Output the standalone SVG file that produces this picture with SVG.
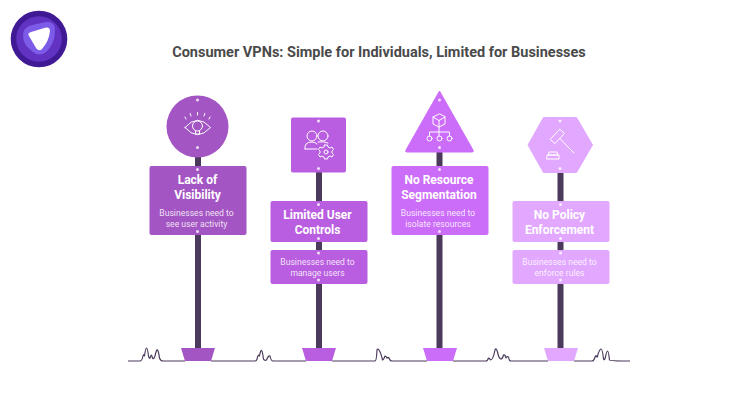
<svg xmlns="http://www.w3.org/2000/svg" width="740" height="420" viewBox="0 0 740 420">
<style>
.t{font-family:Roboto,"Liberation Sans",sans-serif;text-anchor:middle}
.h{font-size:12px;font-weight:700;fill:#fff}
.s{font-size:8.6px;font-weight:400;fill:#fff;fill-opacity:.85}
.i{fill:none;stroke:#fff;stroke-width:1;stroke-linecap:round;stroke-linejoin:round}
.d{fill:#fff;fill-opacity:.8}
.post{fill:#4b3a5c}
.g{fill:none;stroke:#4b3a5c;stroke-width:1.2;stroke-linejoin:round}
</style>
<rect width="740" height="420" fill="#fff"/>
<g id="logo">
<circle cx="39" cy="39" r="28.3" fill="#3f1a94"/>
<circle cx="39" cy="39" r="22.8" fill="#6233c2"/>
<path d="M23 36Q23 27 32 25L46 22Q55 21 55 30Q55 44 46 52Q39 57 33 52Q23 45 23 36Z" fill="#7b5be8"/>
<path d="M29 36Q27 33 31 32L46 27.500Q50 27 50 31Q49 41 42 49Q39 52 36 48Z" fill="#fff"/>
</g>
<text id="title" class="t" x="379" y="57" font-size="14.500" font-weight="700" fill="#4a4a4a">Consumer VPNs: Simple for Individuals, Limited for Businesses</text>
<g id="connectors">
<rect class="post" x="195" y="150" width="6" height="199"/>
<rect class="post" x="316" y="165" width="6" height="184"/>
<rect class="post" x="436.500" y="145" width="6" height="204"/>
<rect class="post" x="557.500" y="165" width="6" height="184"/>
<path class="g" d="M128 361H140Q142 361 143 356Q144 353 144.500 356Q145.500 348 146.500 348Q147.500 348 148.500 356Q149.500 360 150.500 357Q151.500 353 152.500 358Q153.500 360 155 356Q156.500 349 157.500 350Q158.500 351 159.500 358Q160.500 361 163 361H185"/>
<path class="g" d="M211 361H255Q257 361 257.500 357Q258.500 354 259.500 356Q260.500 350 261.500 350.500Q262.500 351 263.500 359Q264.500 361 266.500 360Q268.500 355 270 356Q271 361 273 361H306"/>
<path class="g" d="M332 361H375Q376.500 361 377 350Q377.500 348 379 350Q381 353 382.500 360Q383.500 360 385 356Q386 356 387 358Q388 357 389 358Q390 361 392 361H427"/>
<path class="g" d="M453 361H486Q487.500 361 488.500 358Q489.500 358 490.500 360Q493 360 495 350Q496 347 497.500 352Q499 359 501 359Q502.500 359 503.500 355Q505 354 506 358Q507 356 508.500 357Q509 361 511 361H548"/>
<path class="g" d="M574 361H592Q594 361 595 357Q596 355 596.500 356Q597.500 359 598 354Q600 349 601 349Q602.500 349 603.500 359Q604.500 361 605.500 357Q606.500 351 607.500 351Q608.500 351 609.500 360Q610 361 630 361"/>
</g>
<g id="node-1">
<path d="M181 348H215L211 361H185Z" fill="#a455c4"/>
<circle cx="197.500" cy="126.500" r="31" fill="#a455c4"/>
<circle class="d" cx="197.500" cy="100" r="1.500"/><circle class="d" cx="197.500" cy="147.500" r="1.500"/>
<path class="i" d="M185 127.500Q197.500 113 210.500 127.500Q197.500 142 185 127.500Z"/>
<circle class="i" cx="197.500" cy="126" r="5"/>
<path class="i" d="M195.500 131V134H199.500V131M186 119l-1-2M191 116l-.8-2.500M197.500 115v-2.500M204 116l.8-2.500M209 119l1-2"/>
<rect x="149.500" y="166" width="97" height="69" rx="2" fill="#a455c4"/>
<circle class="d" cx="197.500" cy="169.500" r="1.500"/><circle class="d" cx="197.500" cy="231.500" r="1.500"/>
<text class="t h" x="197.500" y="184">Lack of</text>
<text class="t h" x="197.500" y="199">Visibility</text>
<text class="t s" x="196.500" y="216">Businesses need to</text>
<text class="t s" x="196.500" y="227">see user activity</text>
</g>
<g id="node-2">
<path d="M302 348H336L332 361H306Z" fill="#b95ee0"/>
<rect x="291" y="117.500" width="55" height="55" rx="2" fill="#b95ee0"/>
<circle class="d" cx="318.500" cy="121" r="1.500"/><circle class="d" cx="318.500" cy="168.500" r="1.500"/>
<circle class="i" cx="312" cy="136" r="5"/><circle class="i" cx="323" cy="136" r="5"/>
<path class="i" d="M305 149Q304 142 312 142Q315 142 317 144M305 149H317M318 142Q324 141 328 143"/>
<path class="i" d="M324.500 145H327.500L328 147L330 148L332 147L333.500 149.500L332 151V153L333.500 154.500L332 157L330 156L328 157L327.500 159H324.500L324 157L322 156L320 157L318.500 154.500L320 153V151L318.500 149.500L320 147L322 148L324 147Z"/>
<circle class="i" cx="326" cy="152" r="2"/>
<rect x="270.500" y="201" width="97" height="41" rx="2" fill="#b95ee0"/>
<circle class="d" cx="318.500" cy="204.500" r="1.500"/><circle class="d" cx="318.500" cy="238.500" r="1.500"/>
<text class="t h" x="317.500" y="219">Limited User</text>
<text class="t h" x="317.500" y="233.500">Controls</text>
<rect x="270.500" y="250" width="97" height="34" rx="2" fill="#b95ee0"/>
<circle class="d" cx="318.500" cy="253" r="1.500"/><circle class="d" cx="318.500" cy="280" r="1.500"/>
<text class="t s" x="317.500" y="265">Businesses need to</text>
<text class="t s" x="317.500" y="275.500">manage users</text>
</g>
<g id="node-3">
<path d="M423 348H457L453 361H427Z" fill="#cc6dfa"/>
<path d="M439.500 91L473 150Q474 152 472 152H407Q405 152 406 150Z" fill="#cc6dfa" stroke="#cc6dfa" stroke-linejoin="round"/>
<circle class="d" cx="439.500" cy="100" r="1.500"/><circle class="d" cx="439.500" cy="147.500" r="1.500"/>
<path class="i" d="M439 114L433 117V124L439 127L445 124V117ZM433 117L439 120.500L445 117M439 120.500V127M439 127V136M429.500 136V132H449.500V136"/>
<circle class="i" cx="429.500" cy="138.500" r="2.500"/><circle class="i" cx="439.500" cy="138.500" r="2.500"/><circle class="i" cx="449.500" cy="138.500" r="2.500"/>
<rect x="391.500" y="166" width="97" height="69" rx="2" fill="#cc6dfa"/>
<circle class="d" cx="439.500" cy="169.500" r="1.500"/><circle class="d" cx="439.500" cy="231.500" r="1.500"/>
<text class="t h" x="439" y="184">No Resource</text>
<text class="t h" x="439" y="199">Segmentation</text>
<text class="t s" x="438" y="216">Businesses need to</text>
<text class="t s" x="438" y="227">isolate resources</text>
</g>
<g id="node-4">
<path d="M544 348H578L574 361H548Z" fill="#e2a8ff"/>
<path d="M543.500 117.500H576.500L592.500 145L576.500 172.500H543.500L528 145Z" fill="#e2a8ff" stroke="#e2a8ff" stroke-linejoin="round"/>
<circle class="d" cx="560" cy="121" r="1.500"/><circle class="d" cx="560" cy="168.500" r="1.500"/>
<path class="i" d="M560.100 129.400L564.500 133.400L554.900 143.600L550.500 139.600ZM559.700 138.500L574 153"/>
<path class="i" d="M549.500 152H557L558 155H548.500ZM547.500 155H559V159H547Z"/>
<rect x="512.500" y="201" width="97" height="41" rx="2" fill="#e2a8ff"/>
<circle class="d" cx="560.500" cy="204.500" r="1.500"/><circle class="d" cx="560.500" cy="238.500" r="1.500"/>
<text class="t h" x="559.500" y="219">No Policy</text>
<text class="t h" x="559.500" y="233.500">Enforcement</text>
<rect x="512.500" y="250" width="97" height="34" rx="2" fill="#e2a8ff"/>
<circle class="d" cx="560.500" cy="253" r="1.500"/><circle class="d" cx="560.500" cy="280" r="1.500"/>
<text class="t s" x="559.500" y="265">Businesses need to</text>
<text class="t s" x="559.500" y="275.500">enforce rules</text>
</g>
</svg>
